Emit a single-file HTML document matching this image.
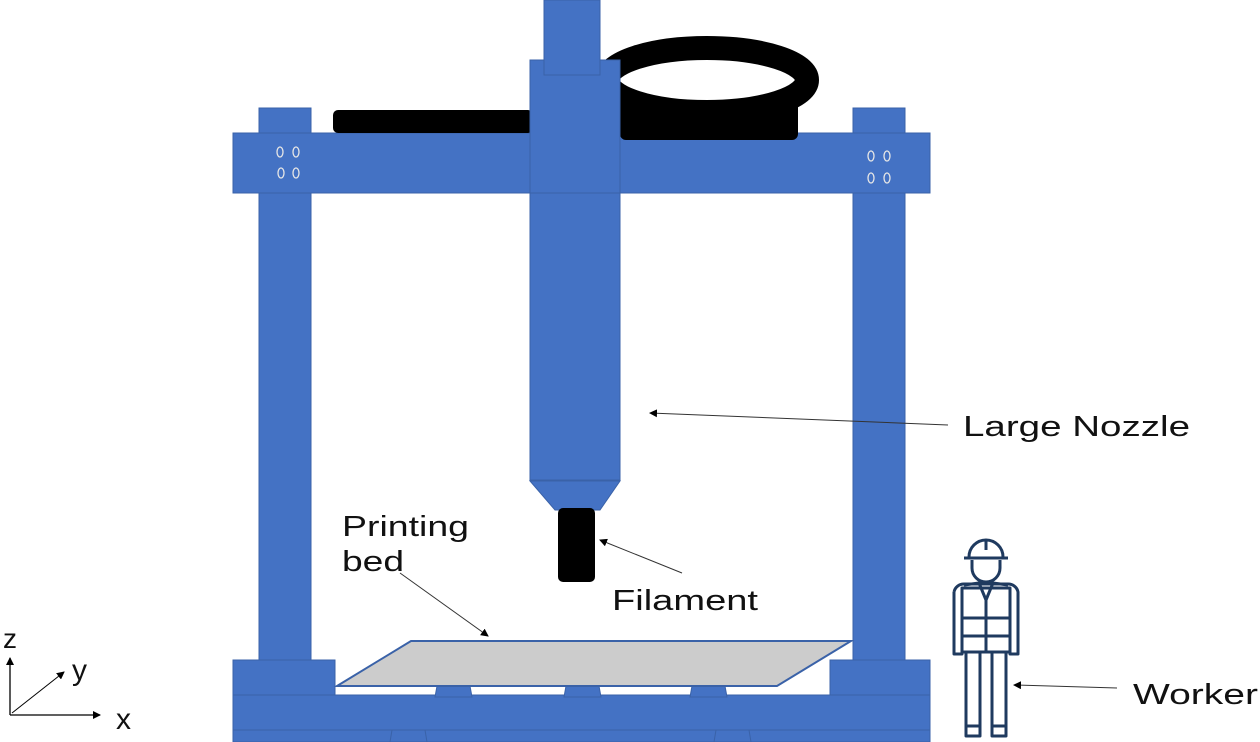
<!DOCTYPE html>
<html><head><meta charset="utf-8"><style>
html,body{margin:0;padding:0;background:#fff}
svg{display:block}
text{font-family:"Liberation Sans",sans-serif;fill:#111}
</style></head><body>
<svg width="1260" height="742" viewBox="0 0 1260 742" xmlns="http://www.w3.org/2000/svg">
<defs><marker id="ah" markerWidth="8" markerHeight="8" refX="7" refY="4" orient="auto" markerUnits="userSpaceOnUse"><path d="M0,0 L8,4 L0,8 z" fill="#000"/></marker></defs>
<g fill="#4472C4" stroke="#3A62A8" stroke-width="1">
<rect x="259" y="108" width="52" height="560"/>
<rect x="853" y="108" width="52" height="560"/>
<rect x="233" y="133" width="697" height="60"/>
</g>
<ellipse cx="707" cy="80" rx="100" ry="32" fill="none" stroke="#000" stroke-width="24"/>
<rect x="620" y="100" width="178" height="40" rx="6" fill="#000"/>
<rect x="333" y="110" width="200" height="23" rx="5" fill="#000"/>
<g fill="#4472C4" stroke="#3A62A8" stroke-width="1">
<rect x="530" y="60" width="90" height="133"/>
<rect x="544" y="0" width="56" height="75"/>
<rect x="530" y="193" width="90" height="287"/>
<polygon points="530,481 620,481 600,510 555,510"/>
</g>
<rect x="558" y="508" width="37" height="74" rx="5" fill="#000"/>
<g fill="none" stroke="#e6e6e6" stroke-width="1.3">
<ellipse cx="280" cy="152" rx="3" ry="5"/><ellipse cx="296" cy="152" rx="3" ry="5"/>
<ellipse cx="281" cy="173" rx="3" ry="5"/><ellipse cx="296" cy="173" rx="3" ry="5"/>
<ellipse cx="871" cy="156" rx="3" ry="5"/><ellipse cx="887" cy="156" rx="3" ry="5"/>
<ellipse cx="871" cy="178" rx="3" ry="5"/><ellipse cx="887" cy="178" rx="3" ry="5"/>
</g>
<g fill="#4472C4" stroke="#3A62A8" stroke-width="1">
<rect x="233" y="660" width="102" height="82"/>
<rect x="830" y="660" width="100" height="82"/>
<rect x="233" y="695" width="697" height="35"/>
<rect x="233" y="730" width="697" height="12"/>
<polygon points="437,686 470,686 472,697 435,697"/>
<polygon points="566,686 599,686 601,697 564,697"/>
<polygon points="692,686 725,686 727,697 690,697"/>
<polygon points="392,730 425,730 427,742 390,742"/>
<polygon points="716,730 749,730 751,742 714,742"/>
</g>
<polygon points="337,686 411,641 851,641 777,686" fill="#cccccc" stroke="#3A62A8" stroke-width="2"/>
<text x="963" y="436" font-size="29" textLength="227" lengthAdjust="spacingAndGlyphs">Large Nozzle</text>
<line x1="948" y1="425" x2="650" y2="413" stroke="#333" stroke-width="1" marker-end="url(#ah)"/>
<text x="612" y="610" font-size="29" textLength="146" lengthAdjust="spacingAndGlyphs">Filament</text>
<line x1="682" y1="573" x2="600" y2="540" stroke="#333" stroke-width="1" marker-end="url(#ah)"/>
<text x="342" y="536" font-size="29" textLength="127" lengthAdjust="spacingAndGlyphs">Printing</text>
<text x="342" y="571" font-size="29" textLength="62" lengthAdjust="spacingAndGlyphs">bed</text>
<line x1="400" y1="573" x2="488" y2="636" stroke="#333" stroke-width="1" marker-end="url(#ah)"/>
<text x="1133" y="704" font-size="29" textLength="125" lengthAdjust="spacingAndGlyphs">Worker</text>
<line x1="1117" y1="688" x2="1014" y2="685" stroke="#333" stroke-width="1" marker-end="url(#ah)"/>
<line x1="10" y1="715" x2="10" y2="658" stroke="#000" stroke-width="1.3" marker-end="url(#ah)"/>
<line x1="10" y1="715" x2="100" y2="715" stroke="#000" stroke-width="1.3" marker-end="url(#ah)"/>
<line x1="12" y1="713" x2="64" y2="672" stroke="#000" stroke-width="1" marker-end="url(#ah)"/>
<text x="3" y="648" font-size="28">z</text>
<text x="72" y="680" font-size="30">y</text>
<text x="116" y="729" font-size="30">x</text>
<g fill="none" stroke="#1f3a5f" stroke-width="3" stroke-linejoin="round">
<path d="M969,557 a17,17 0 0 1 34,0"/>
<line x1="964" y1="558" x2="1008" y2="558"/>
<line x1="986" y1="540" x2="986" y2="550"/>
<path d="M972,560 v8 a14,14 0 0 0 28,0 v-8"/>
<path d="M964,585 L979,583 L986,600 L993,583 L1008,585"/>
<path d="M954,592 a10,10 0 0 1 10,-8 h44 a10,10 0 0 1 10,8 v62 h-8 v-58"/>
<path d="M954,592 v62 h8 v-58"/>
<rect x="962" y="588" width="48" height="64"/>
<line x1="962" y1="618" x2="1010" y2="618"/>
<line x1="962" y1="636" x2="1010" y2="636"/>
<line x1="986" y1="600" x2="986" y2="652"/>
<path d="M966,652 v84 h14 v-84"/>
<path d="M992,652 v84 h14 v-84"/>
<line x1="966" y1="726" x2="980" y2="726"/>
<line x1="992" y1="726" x2="1006" y2="726"/>
</g>
</svg>
</body></html>
